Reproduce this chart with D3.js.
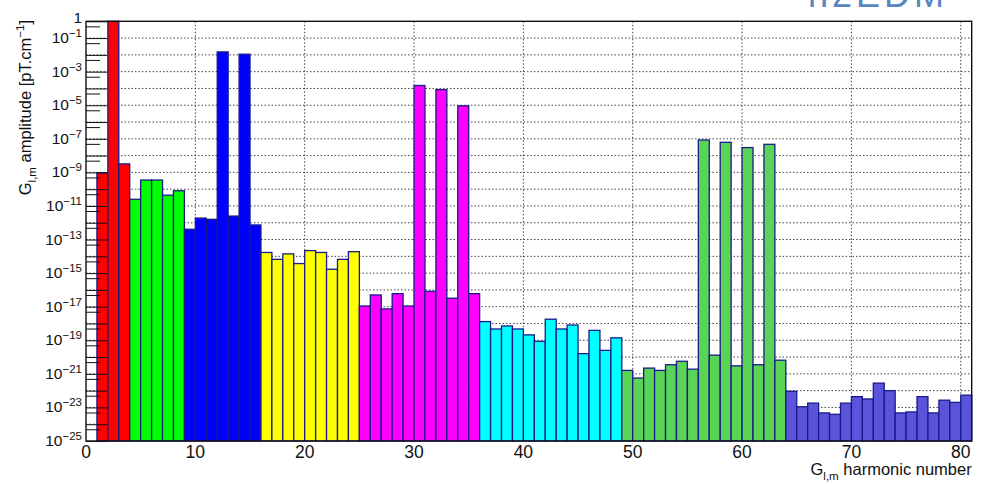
<!DOCTYPE html>
<html>
<head>
<meta charset="utf-8">
<script src="https://cdn.jsdelivr.net/npm/d3@7"></script>
<style>
  html, body { margin: 0; padding: 0; background: #fff; }
  svg { display: block; font-family: "Liberation Sans", Arial, Helvetica, sans-serif; }
</style>
</head>
<body>
<svg id="chart" width="986" height="484"></svg>
<script>
// Harmonic amplitudes G_{l,m}, one bin per harmonic (index 1..80)
const amplitudes = [
  9.5e-10, 1.0, 3.2e-9,                                        // l = 1
  2.5e-11, 3.5e-10, 3.5e-10, 4.4e-11, 8.1e-11,                 // l = 2
  4.1e-13, 1.9e-12, 1.6e-12, 1.5e-2, 2.5e-12, 1.1e-2, 7.4e-13, // l = 3
  1.7e-14, 6.6e-15, 1.4e-14, 3.7e-15, 2.2e-14, 1.7e-14, 1.7e-15, 6.6e-15, 1.9e-14, // l = 4
  1.1e-17, 5.0e-17, 7.4e-18, 6.0e-17, 1.1e-17, 1.5e-4, 8.3e-17, 8.5e-5, 3.2e-17, 9.3e-6, 6.0e-17, // l = 5
  1.3e-18, 4.7e-19, 7.1e-19, 4.7e-19, 2.1e-19, 8.7e-20, 1.8e-18, 4.7e-19, 8.1e-19, 1.6e-20, 3.9e-19, 2.5e-20, 1.4e-19, // l = 6
  1.6e-21, 5.6e-22, 2.2e-21, 1.6e-21, 3.5e-21, 5.6e-21, 1.9e-21, 8.5e-8, 1.3e-20, 6.2e-8, 3.0e-21, 3.0e-8, 3.5e-21, 4.7e-8, 6.5e-21, // l = 7
  9.1e-23, 1.1e-23, 1.8e-23, 4.7e-24, 3.9e-24, 1.8e-23, 4.4e-23, 3.2e-23, 2.8e-22, 1.0e-22, 4.7e-24, 5.4e-24, 4.4e-23, 4.7e-24, 2.7e-23, 2.0e-23, 5.4e-23 // l = 8
];
// Degree l of each group of 2l+1 harmonics and its fill colour
const degrees = [1, 2, 3, 4, 5, 6, 7, 8];
const degreeColors = ["#ff0000", "#00ff00", "#0000ff", "#ffff00", "#ff00ff", "#00ffff", "#59d454", "#5954d9"];
// Axis tick labels
const xTickValues = [0, 10, 20, 30, 40, 50, 60, 70, 80];
const yLabelExponents = [0, -1, -3, -5, -7, -9, -11, -13, -15, -17, -19, -21, -23, -25];

const svg = d3.select("#chart");
const plotLeft = 86, plotRight = 971.7, plotTop = 21.3, plotBottom = 441;

const x = d3.scaleLinear().domain([0, 81]).range([plotLeft, plotRight]);
const y = d3.scaleLog().domain([1e-25, 1]).range([plotBottom, plotTop]);

// colour for each bin from its degree group
const binColor = [];
degrees.forEach((l, i) => { for (let k = 0; k < 2 * l + 1; k++) binColor.push(degreeColors[i]); });

const bins = amplitudes.map((v, i) => ({ h: i + 1, v, color: binColor[i] }));

// Grid (dotted) behind the bars
const decades = d3.range(-24, 0).map(e => Math.pow(10, e));
svg.append("g").selectAll("line").data(decades).join("line")
  .attr("x1", plotLeft).attr("x2", plotRight)
  .attr("y1", d => y(d)).attr("y2", d => y(d))
  .attr("stroke", "#444").attr("stroke-width", 1).attr("stroke-dasharray", "1.5,2");
svg.append("g").selectAll("line").data(xTickValues.filter(v => v > 0)).join("line")
  .attr("x1", d => x(d)).attr("x2", d => x(d))
  .attr("y1", plotTop).attr("y2", plotBottom)
  .attr("stroke", "#444").attr("stroke-width", 1).attr("stroke-dasharray", "1.5,2");

// Bars
svg.append("g").selectAll("rect").data(bins).join("rect")
  .attr("x", d => x(d.h))
  .attr("width", d => x(d.h + 1) - x(d.h))
  .attr("y", d => y(Math.min(d.v, 1)))
  .attr("height", d => plotBottom - y(Math.min(d.v, 1)))
  .attr("fill", d => d.color)
  .attr("stroke", "#1a1a88").attr("stroke-width", 1.3);

// Y axis ticks drawn inward, on top of the bars
const majorTicks = d3.range(-25, 1).map(e => Math.pow(10, e));
const minorTicks = d3.range(-25, 0).map(e => 5 * Math.pow(10, e));
const yMajor = svg.append("g").attr("transform", `translate(${plotLeft},0)`)
  .call(d3.axisLeft(y).tickValues(majorTicks).tickSize(-21).tickFormat(""));
const yMinor = svg.append("g").attr("transform", `translate(${plotLeft},0)`)
  .call(d3.axisLeft(y).tickValues(minorTicks).tickSize(-14).tickFormat(""));
[yMajor, yMinor].forEach(g => {
  g.select(".domain").remove();
  g.selectAll(".tick line").attr("stroke", "#111").attr("stroke-width", 1);
});

// Y tick labels: 1 and 10^n
const yLab = svg.append("g").attr("font-size", 15.5).attr("fill", "#111");
yLabelExponents.forEach(e => {
  const t = yLab.append("text").attr("x", plotLeft - 4).attr("y", y(Math.pow(10, e)) + 5)
    .attr("text-anchor", "end");
  if (e === 0) {
    t.attr("y", y(1) + 2).text("1");
  } else {
    t.append("tspan").text("10");
    t.append("tspan").attr("dy", -6).attr("font-size", 11.5).text("\u2212" + (-e));
  }
});

// X axis labels
svg.append("g").selectAll("text").data(xTickValues).join("text")
  .attr("x", d => x(d)).attr("y", 458)
  .attr("text-anchor", "middle").attr("font-size", 17.5).attr("fill", "#111")
  .text(d => d);

// Frame
svg.append("rect").attr("x", plotLeft).attr("y", plotTop)
  .attr("width", plotRight - plotLeft).attr("height", plotBottom - plotTop)
  .attr("fill", "none").attr("stroke", "#111").attr("stroke-width", 1.4);

// Axis titles
const xt = svg.append("text").attr("x", plotRight).attr("y", 475)
  .attr("text-anchor", "end").attr("font-size", 16.5).attr("fill", "#111");
xt.append("tspan").text("G");
xt.append("tspan").attr("dy", 5).attr("font-size", 11.5).text("l,m");
xt.append("tspan").attr("dy", -5).text(" harmonic number");

const yt = svg.append("text").attr("transform", "translate(31,20) rotate(-90)")
  .attr("text-anchor", "end").attr("font-size", 16.5).attr("fill", "#111");
yt.append("tspan").text("G");
yt.append("tspan").attr("dy", 5).attr("font-size", 11.5).text("l,m");
yt.append("tspan").attr("dy", -5).text(" amplitude [pT.cm");
yt.append("tspan").attr("dy", -7).attr("font-size", 11.5).text("\u22121");
yt.append("tspan").attr("dy", 7).text("]");

// Header lettering at the top edge
svg.append("text").attr("x", 948).attr("y", 7).attr("text-anchor", "end")
  .attr("font-size", 36).attr("letter-spacing", 4).attr("fill", "#5a86c0").text("n2EDM");
</script>
</body>
</html>
